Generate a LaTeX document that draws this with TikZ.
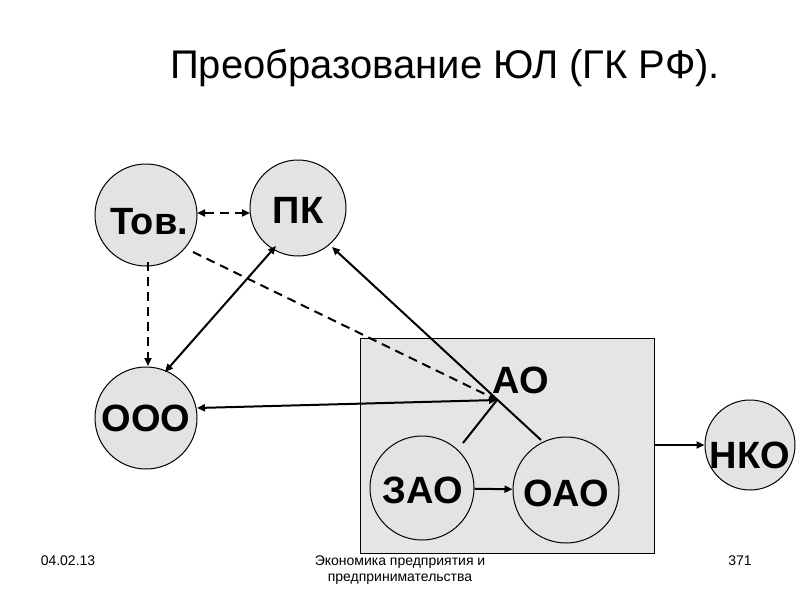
\documentclass[tikz,border=0pt]{standalone}
\usepackage{fontspec}
\setmainfont{Liberation Sans}
\usetikzlibrary{arrows.meta}
\begin{document}
\begin{tikzpicture}[x=1pt,y=-1pt,
  org/.style={circle,draw=black,fill=gray!22,line width=1pt,inner sep=0pt},
  lbl/.style={font=\fontsize{38}{42}\selectfont\bfseries},
  con/.style={line width=2pt,-{Triangle[length=8pt,width=7pt]}},
  bicon/.style={line width=2pt,{Triangle[length=8pt,width=7pt]}-{Triangle[length=8pt,width=7pt]}},
  dsh/.style={dash pattern=on 9pt off 6pt},
  foot/.style={font=\fontsize{14}{16}\selectfont,align=center}]
\useasboundingbox (0,0) rectangle (800,600);
\node[font=\fontsize{40}{44}\selectfont] (title) at (445,68) {Преобразование ЮЛ (ГК РФ).};
\node[draw=black,fill=gray!20,line width=1pt,minimum width=294pt,minimum height=215pt,inner sep=0pt] (box) at (507,445.5) {};
\node[org,minimum size=102pt] (tov) at (146,215) {};
\node[lbl] at (149,222) {Тов.};
\node[org,minimum size=96pt] (pk) at (298,208) {};
\node[lbl] at (298,210) {ПК};
\node[org,minimum size=102pt] (ooo) at (146,418) {};
\node[lbl] at (146,418) {ООО};
\node[lbl] (ao) at (521,380) {АО};
\coordinate (j) at (497,400);
\node[org,minimum size=104pt] (zao) at (422,488) {};
\node[lbl] at (423,490) {ЗАО};
\node[org,minimum size=106pt] (oao) at (566,490) {};
\node[lbl] at (566,493) {ОАО};
\node[org,minimum size=90pt] (nko) at (750,445) {};
\node[lbl] at (750,455) {НКО};
\draw[bicon,dsh] (197,213) -- (250,213);
\draw[con,dsh] (148,262) -- (148,366);
\draw[con,dsh] (193,252) -- (j);
\draw[bicon] (165,372) -- (276,246);
\draw[bicon] (197,408) -- (j);
\draw[con] (541,440) -- (332,247);
\draw[line width=2pt] (j) -- (463,443);
\draw[con] (zao) -- (oao);
\draw[con] (box.east |- nko) -- (nko);
\node[foot] (d) at (68,561) {04.02.13};
\node[foot] (t) at (400,570) {Экономика предприятия и\\предпринимательства};
\node[foot] (n) at (740,561) {371};
\end{tikzpicture}
\end{document}
